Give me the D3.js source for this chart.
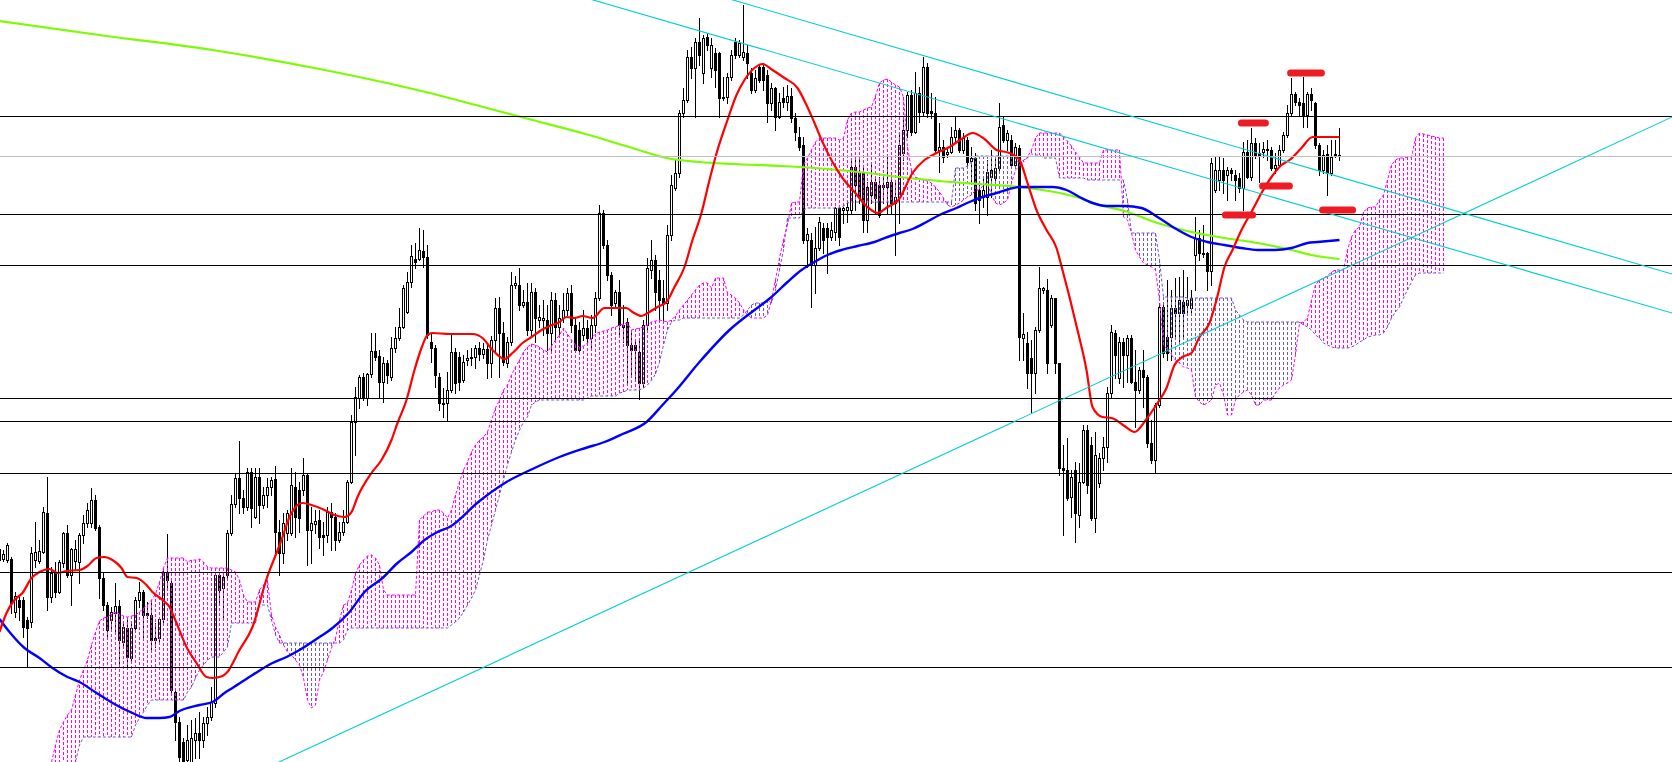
<!DOCTYPE html>
<html><head><meta charset="utf-8">
<script src="https://cdn.jsdelivr.net/npm/d3@7"></script>
<style>html,body{margin:0;padding:0;background:#fff;overflow:hidden}svg{display:block}</style>
</head><body><svg id="chart" width="1672" height="762"></svg>
<script>
// ---------- DATA ----------
const open=[106.40,106.41,106.40,106.41,105.88,106.00,106.00,105.80,105.78,106.40,
106.39,106.48,106.87,106.03,106.27,106.08,106.37,106.67,106.25,106.39,
106.38,106.65,106.77,106.77,107.00,106.73,106.22,105.95,105.80,105.87,
105.94,105.58,105.72,105.42,105.72,106.00,106.08,105.87,105.85,105.62,
105.62,105.81,106.28,106.17,105.08,104.78,104.58,104.40,104.38,104.60,
104.67,104.60,104.77,104.83,104.97,106.25,106.12,106.25,106.67,106.96,
107.22,107.02,106.93,107.28,106.83,107.23,106.95,107.05,107.13,107.21,
106.68,106.47,106.67,106.67,107.13,107.10,107.10,107.25,106.70,106.76,
106.80,106.65,106.65,106.88,106.83,106.60,106.68,106.78,107.18,107.78,
108.02,108.23,108.02,108.26,108.49,108.44,108.18,108.37,108.23,108.52,
108.62,108.73,108.88,109.18,109.41,109.41,109.49,109.43,108.58,108.52,
108.23,107.97,107.97,108.10,108.48,108.43,108.20,108.40,108.42,108.43,
108.52,108.46,108.51,108.37,108.60,108.92,108.67,108.37,108.58,109.15,
109.15,108.95,108.98,108.70,109.08,108.80,108.80,108.80,108.67,109.00,
108.73,108.82,108.90,109.07,108.75,108.70,108.65,108.72,108.62,108.75,
109.02,109.87,109.55,109.25,108.97,109.08,108.75,108.78,108.55,108.55,
108.48,108.17,108.75,109.30,109.40,109.20,109.02,108.97,109.65,110.12,
110.27,110.87,111.00,111.43,111.32,111.58,111.27,111.63,111.32,111.47,
111.47,111.03,111.03,111.23,111.58,111.45,111.43,111.47,111.27,111.10,
111.33,111.33,111.25,110.97,111.12,110.83,111.02,110.98,111.04,110.82,
110.63,110.55,109.60,109.60,109.35,109.52,109.72,109.72,109.63,109.68,
109.92,109.90,109.90,109.90,110.33,110.27,110.27,109.80,110.05,110.18,
110.15,110.13,110.13,110.18,109.97,110.03,110.47,110.70,111.05,110.68,
111.07,110.88,111.33,110.89,110.87,110.50,110.53,110.46,110.48,110.63,
110.70,110.50,110.60,110.39,110.42,110.10,110.03,110.03,110.23,110.22,
110.32,110.75,110.60,110.60,110.35,110.52,108.62,108.57,108.42,108.27,
108.70,109.10,109.10,108.75,109.02,108.37,107.32,107.30,107.03,107.30,
106.85,107.18,107.70,107.55,106.82,107.17,107.42,107.53,108.07,108.67,
108.22,108.58,108.45,108.62,108.18,108.10,108.30,108.23,107.57,107.40,
107.95,108.93,108.63,108.63,108.92,108.87,108.98,108.95,108.92,109.45,
109.62,109.47,109.47,109.29,110.10,110.20,110.30,110.25,110.30,110.25,
110.22,110.12,110.48,110.23,110.57,110.47,110.48,110.50,110.50,110.32,
110.35,110.50,110.65,110.87,111.06,110.98,110.97,110.85,111.06,110.97,
110.55,110.30,110.46,110.27,110.46,110.44];
const high=[106.53,106.50,106.57,106.43,106.08,106.03,106.03,105.83,106.53,106.78,
106.60,106.93,107.23,106.33,106.38,106.40,106.68,106.75,106.52,106.60,
106.67,106.85,106.97,107.12,107.05,106.75,106.28,105.98,105.93,106.17,
106.00,105.78,105.83,105.77,106.03,106.18,106.10,105.98,105.98,105.77,
105.83,106.32,106.66,106.20,105.10,104.83,104.62,104.75,104.80,104.82,
104.88,104.83,104.93,105.13,106.28,106.28,106.27,106.70,107.05,107.27,
107.59,107.10,107.32,107.32,107.32,107.32,107.13,107.22,107.23,107.34,
106.80,106.87,106.90,107.32,107.28,107.18,107.42,107.27,106.93,106.90,
106.90,106.78,106.93,106.97,106.87,106.78,106.90,107.20,107.85,108.13,
108.25,108.27,108.27,108.67,108.67,108.50,108.43,108.40,108.63,108.73,
108.92,109.15,109.28,109.55,109.57,109.72,109.70,109.55,108.67,108.55,
108.27,108.12,108.28,108.65,108.52,108.48,108.45,108.50,108.52,108.55,
108.58,108.57,108.57,108.64,109.02,109.03,108.78,108.63,109.28,109.24,
109.32,109.10,109.17,109.17,109.12,108.95,109.00,108.95,109.08,109.07,
108.95,109.07,109.12,109.15,108.82,108.78,108.90,108.80,108.85,109.08,
109.95,109.90,109.60,109.28,109.10,109.20,108.95,108.82,108.70,108.60,
108.60,108.80,109.42,109.60,109.45,109.30,109.20,109.75,110.25,110.40,
110.90,111.12,111.50,111.53,111.62,111.82,111.65,111.67,111.62,111.52,
111.48,111.23,111.27,111.50,111.62,111.60,111.95,111.55,111.32,111.30,
111.35,111.37,111.30,111.17,111.13,111.07,111.13,111.15,111.12,110.87,
110.73,110.63,109.72,109.67,109.73,109.83,109.77,109.77,109.78,109.93,
109.93,109.93,110.00,110.42,110.43,110.43,110.33,110.18,110.35,110.23,
110.23,110.23,110.45,110.25,110.17,110.65,110.83,111.08,111.10,111.28,
111.13,111.43,111.37,111.07,111.03,110.77,110.60,110.53,110.73,110.83,
110.72,110.67,110.63,110.53,110.47,110.17,110.23,110.40,110.50,110.43,
110.97,110.83,110.70,110.65,110.57,110.55,108.87,108.68,108.60,108.73,
109.33,109.13,109.21,109.05,109.02,108.37,107.55,107.62,107.30,107.38,
107.37,107.75,107.75,107.63,107.68,107.47,107.63,108.13,108.75,108.70,
108.63,108.62,108.65,108.65,108.50,108.33,108.50,108.25,107.80,107.97,
108.97,108.97,109.20,109.10,109.22,109.23,109.30,109.23,109.10,109.83,
109.70,109.75,109.48,110.42,110.43,110.43,110.42,110.33,110.32,110.30,
110.27,110.58,110.60,110.72,110.62,110.57,110.58,110.60,110.53,110.47,
110.55,110.68,110.95,111.22,111.08,111.02,111.23,111.08,111.12,110.98,
110.57,110.50,110.55,110.60,110.60,110.72];
const low=[106.38,106.39,106.38,105.87,105.83,105.80,105.63,105.33,105.73,106.33,
106.37,106.47,105.90,105.98,106.03,106.07,106.33,106.23,105.95,106.30,
106.17,106.57,106.73,106.73,106.70,106.02,105.90,105.63,105.70,105.67,
105.37,105.53,105.33,105.40,105.70,105.93,105.63,105.82,105.50,105.53,
105.58,105.77,106.13,105.07,104.60,104.35,104.25,104.30,104.30,104.42,
104.42,104.53,104.65,104.80,104.93,105.97,105.83,106.22,106.65,106.93,
106.87,106.87,106.90,106.73,106.82,106.77,106.92,106.93,107.05,106.47,
106.25,106.37,106.60,106.65,106.63,106.68,107.05,106.35,106.37,106.67,
106.52,106.45,106.58,106.50,106.50,106.58,106.65,106.77,107.17,107.45,
107.92,108.00,107.95,108.23,108.40,108.02,107.98,108.17,108.20,108.48,
108.60,108.72,108.87,109.13,109.32,109.40,109.33,108.62,108.38,108.13,
107.90,107.83,107.80,108.08,108.07,108.10,108.18,108.35,108.35,108.32,
108.40,108.42,108.22,108.23,108.48,108.23,108.35,108.33,108.55,109.12,
108.90,108.93,108.65,108.65,108.58,108.73,108.65,108.50,108.50,108.60,
108.63,108.78,108.85,108.68,108.48,108.48,108.60,108.58,108.52,108.68,
109.00,109.52,109.20,108.85,108.92,108.65,108.58,108.15,108.25,108.20,
108.01,108.13,108.70,109.22,108.90,108.78,108.78,108.90,109.60,110.10,
110.23,110.83,110.98,111.22,110.83,111.35,111.17,111.50,111.23,111.13,
110.83,111.00,110.97,111.20,111.42,111.43,111.40,111.22,111.07,111.08,
111.18,111.10,110.78,110.90,110.70,110.82,110.93,110.90,110.78,110.60,
110.50,109.57,109.33,108.93,109.07,109.50,109.47,109.27,109.60,109.60,
109.55,109.77,109.78,109.87,109.90,109.97,109.68,109.68,109.97,109.87,
109.83,109.97,109.87,109.87,109.45,109.77,110.40,110.63,110.65,110.67,
110.78,110.85,110.83,110.82,110.48,110.28,110.38,110.43,110.47,110.57,
110.48,110.47,110.33,110.17,109.90,109.77,109.93,109.85,110.03,110.18,
110.30,110.58,110.50,110.33,110.32,108.40,108.40,108.12,107.88,108.07,
108.68,109.07,108.27,108.73,108.27,107.25,106.65,107.00,106.83,106.58,
106.73,107.17,107.07,106.80,106.68,107.13,107.30,107.38,108.03,108.22,
108.17,108.13,108.18,108.17,107.73,108.07,107.93,107.53,107.37,107.27,
107.93,108.43,108.40,108.40,108.63,108.57,108.63,108.87,108.87,109.10,
109.40,109.43,109.10,109.15,110.08,110.10,110.07,110.00,110.20,110.00,
110.08,109.90,110.22,110.20,110.42,110.18,110.43,110.40,110.30,110.27,
110.33,110.48,110.63,110.85,110.95,110.85,110.73,110.73,110.90,110.52,
110.25,110.27,110.05,110.25,110.43,110.40];
const close=[106.51,106.46,106.55,105.97,106.04,105.93,105.73,105.72,106.47,106.48,
106.49,106.88,106.03,106.27,106.08,106.38,106.67,106.25,106.51,106.51,
106.65,106.77,106.90,107.00,106.72,106.22,105.95,105.70,105.88,105.94,
105.60,105.73,105.43,105.72,106.00,106.08,105.85,105.85,105.60,105.60,
105.81,106.28,106.20,105.10,104.78,104.43,104.38,104.60,104.62,104.67,
104.60,104.77,104.83,104.98,106.25,106.10,106.23,106.67,106.96,107.22,
107.02,106.93,107.28,106.92,107.23,106.95,107.05,107.13,107.20,106.68,
106.47,106.77,106.87,107.15,106.83,106.82,107.25,106.70,106.77,106.79,
106.63,106.63,106.88,106.83,106.60,106.68,106.78,107.18,107.78,108.03,
108.23,108.02,108.26,108.49,108.43,108.18,108.37,108.25,108.52,108.62,
108.73,109.12,109.18,109.44,109.38,109.50,109.43,108.65,108.52,108.25,
107.97,107.96,108.10,108.48,108.17,108.18,108.38,108.42,108.43,108.52,
108.46,108.51,108.37,108.60,108.92,108.67,108.38,108.58,109.15,109.17,
108.95,108.98,108.70,109.08,108.82,108.83,108.82,108.67,109.00,108.73,
108.82,108.90,109.07,108.75,108.50,108.50,108.72,108.62,108.75,109.02,
109.87,109.55,109.25,108.95,109.08,108.75,108.73,108.55,108.50,108.50,
108.17,108.75,109.32,109.40,109.08,109.00,108.97,109.65,110.15,110.27,
110.87,111.00,111.43,111.32,111.58,111.45,111.62,111.55,111.55,111.30,
111.02,111.02,111.23,111.45,111.45,111.57,111.48,111.37,111.10,111.22,
111.20,111.20,110.97,111.12,110.83,110.98,110.98,111.04,110.82,110.68,
110.53,109.60,109.66,109.35,109.52,109.78,109.60,109.63,109.70,109.92,
109.63,109.92,109.93,110.33,110.15,110.03,109.80,110.13,110.18,110.02,
109.85,110.15,110.18,109.97,110.03,110.55,110.70,111.05,110.68,111.07,
110.88,111.33,110.87,110.87,110.50,110.53,110.43,110.48,110.63,110.70,
110.50,110.62,110.38,110.42,109.97,110.00,110.10,110.28,110.30,110.32,
110.73,110.60,110.67,110.35,110.53,108.63,108.66,108.27,108.27,108.70,
109.12,109.12,108.37,109.02,108.37,107.32,107.30,107.02,107.23,106.87,
107.18,107.70,107.15,106.82,107.45,107.42,107.53,108.07,108.68,108.45,
108.58,108.45,108.62,108.18,108.10,108.30,108.23,107.57,107.40,107.95,
108.93,108.47,108.47,108.92,108.87,109.00,108.87,109.00,109.02,109.62,
109.47,109.46,109.29,110.37,110.30,110.30,110.20,110.30,110.27,110.20,
110.12,110.48,110.23,110.57,110.45,110.45,110.51,110.51,110.32,110.35,
110.50,110.65,110.87,111.06,110.98,110.95,110.85,111.06,111.00,110.55,
110.30,110.45,110.27,110.43,110.44,110.45];

// Ichimoku Senkou spans (already shifted 26 bars ahead): [bar, price] read where the value changes
const senkouA=[[13,104.38],[14,104.55],[15,104.70],[16,104.78],[17,104.85],[18,104.90],[19,105.05],[20,105.20],[21,105.30],[22,105.40],[23,105.55],[24,105.68],[25,105.79],[26,105.82],[27,105.83],[28,105.86],[29,105.88],[30,105.86],[31,105.84],[32,105.83],[33,105.84],[34,105.85],[35,105.88],[36,105.92],[37,105.95],[38,106.00],[39,106.06],[40,106.18],[41,106.32],[42,106.42],[47,106.38],[48,106.40],[50,106.41],[51,106.38],[52,106.33],[53,106.32],[58,106.30],[59,106.28],[60,106.20],[61,106.05],[62,105.98],[65,106.10],[66,106.15],[67,106.20],[68,105.85],[69,105.73],[70,105.65],[71,105.55],[72,105.48],[73,105.45],[74,105.40],[75,105.35],[76,105.22],[77,105.00],[78,104.92],[79,104.95],[80,105.20],[81,105.28],[82,105.40],[83,105.52],[84,105.62],[85,105.80],[86,105.95],[87,105.97],[88,106.10],[89,106.27],[90,106.35],[91,106.40],[92,106.44],[93,106.45],[94,106.42],[95,106.35],[96,106.10],[97,106.05],[105,106.80],[106,106.84],[107,106.88],[109,106.90],[111,106.87],[112,106.82],[113,106.90],[114,107.05],[115,107.18],[116,107.30],[117,107.38],[118,107.48],[119,107.55],[120,107.60],[121,107.63],[122,107.68],[123,107.80],[124,107.92],[125,108.00],[126,108.10],[127,108.15],[128,108.25],[129,108.33],[130,108.40],[131,108.48],[132,108.53],[133,108.56],[134,108.55],[135,108.53],[136,108.50],[137,108.48],[138,108.54],[139,108.60],[140,108.65],[141,108.72],[142,108.66],[143,108.60],[144,108.55],[145,108.53],[146,108.54],[147,108.57],[148,108.62],[149,108.66],[150,108.68],[151,108.69],[152,108.70],[153,108.72],[154,108.73],[155,108.75],[156,108.76],[157,108.77],[158,108.70],[159,108.71],[160,108.72],[161,108.73],[162,108.75],[163,108.78],[164,108.79],[165,108.80],[166,108.79],[167,108.78],[168,108.80],[169,108.84],[170,108.90],[171,108.95],[172,109.00],[173,109.05],[174,109.10],[175,109.15],[176,109.17],[178,109.12],[179,109.22],[182,109.07],[183,109.05],[184,109.02],[185,108.97],[186,108.90],[187,108.85],[188,108.82],[192,108.85],[193,109.00],[194,109.20],[195,109.42],[196,109.60],[197,109.75],[198,109.97],[199,109.98],[201,110.35],[202,110.42],[203,110.50],[204,110.58],[205,110.62],[210,110.60],[211,110.62],[212,110.80],[213,110.87],[214,110.88],[216,110.90],[217,110.92],[218,110.93],[219,111.04],[220,111.17],[221,111.20],[222,111.21],[223,111.18],[224,111.15],[225,111.13],[226,111.03],[227,110.53],[228,110.30],[229,110.23],[230,110.21],[231,110.20],[232,110.19],[233,110.17],[234,110.13],[235,110.08],[236,110.02],[237,109.95],[238,109.93],[239,109.95],[240,109.97],[241,110.00],[242,110.03],[243,110.05],[244,110.10],[246,110.15],[247,110.17],[248,110.05],[249,109.97],[250,109.95],[251,109.97],[252,110.00],[253,110.17],[254,110.30],[255,110.34],[256,110.38],[257,110.43],[258,110.50],[259,110.62],[260,110.67],[266,110.63],[267,110.59],[268,110.54],[269,110.48],[270,110.43],[271,110.37],[276,110.50],[281,109.83],[282,109.80],[283,109.67],[284,109.50],[285,109.43],[286,109.37],[287,109.35],[288,109.33],[289,109.30],[290,109.00],[291,108.55],[292,108.50],[293,108.45],[294,108.40],[295,108.37],[296,108.33],[297,108.32],[298,108.30],[299,108.03],[300,107.98],[301,107.95],[302,107.97],[303,108.00],[304,108.15],[305,108.17],[306,108.05],[307,107.85],[309,108.00],[310,108.05],[311,108.08],[312,108.10],[313,108.05],[314,107.95],[316,108.00],[319,108.07],[320,108.12],[321,108.15],[322,108.17],[323,108.20],[324,108.45],[325,108.77],[326,108.78],[327,108.82],[328,109.00],[329,109.15],[330,109.20],[331,109.22],[332,109.24],[333,109.28],[334,109.30],[337,109.50],[338,109.63],[339,109.70],[340,109.73],[341,109.88],[342,109.92],[343,109.93],[345,110.00],[346,110.05],[347,110.20],[348,110.35],[349,110.40],[350,110.42],[352,110.43],[354,110.62],[355,110.67],[356,110.66],[357,110.65],[358,110.64],[359,110.63],[360,110.62],[361,110.62]];
const senkouB=[[13,104.00],[16,104.10],[17,104.20],[18,104.30],[19,104.38],[20,104.55],[21,104.63],[34,104.75],[35,104.82],[36,104.88],[37,104.95],[38,105.00],[47,105.08],[48,105.13],[49,105.22],[50,105.30],[51,105.35],[52,105.40],[53,105.43],[56,105.48],[57,105.53],[58,105.77],[65,105.95],[68,105.80],[69,105.65],[70,105.57],[86,105.60],[87,105.70],[88,105.72],[113,105.75],[114,105.78],[115,105.82],[116,105.88],[117,105.95],[118,106.02],[119,106.10],[120,106.25],[121,106.40],[122,106.60],[123,106.75],[124,106.90],[125,107.05],[126,107.20],[127,107.35],[128,107.48],[129,107.60],[130,107.70],[131,107.78],[132,107.83],[133,107.95],[134,107.98],[135,108.00],[147,108.02],[148,108.04],[155,108.07],[156,108.08],[157,108.10],[161,108.12],[162,108.15],[163,108.20],[164,108.26],[165,108.38],[166,108.55],[167,108.70],[168,108.78],[169,108.80],[171,108.82],[186,108.85],[187,108.90],[188,108.95],[189,108.97],[192,109.00],[193,108.97],[194,109.10],[195,109.30],[196,109.50],[197,109.82],[201,109.90],[202,109.92],[211,109.94],[212,109.97],[213,109.98],[239,110.32],[242,110.34],[243,110.38],[244,110.44],[255,110.35],[256,110.40],[257,110.42],[258,110.46],[259,110.45],[261,110.42],[265,110.22],[272,110.20],[282,110.00],[283,109.67],[290,109.40],[291,109.03],[297,109.02],[309,108.90],[310,108.85],[311,108.80],[312,108.78],[326,108.75],[327,108.73],[328,108.70],[329,108.65],[330,108.62],[331,108.57],[332,108.55],[333,108.53],[334,108.52],[338,108.53],[339,108.55],[340,108.58],[341,108.60],[342,108.63],[343,108.64],[344,108.65],[346,108.67],[347,108.73],[348,108.82],[349,108.88],[350,108.93],[351,109.02],[352,109.10],[353,109.18],[354,109.25],[355,109.27],[361,109.27]];

// Moving averages: [bar, price]
const redMA=[[0,105.68],[1.75,105.87],[3.75,106.00],[5.75,106.07],[8,106.22],[10,106.28],[12.5,106.31],[14.5,106.27],[16.75,106.29],[20,106.30],[22,106.34],[24.25,106.42],[26.25,106.43],[28.25,106.40],[30.5,106.32],[32,106.23],[34.25,106.22],[36.75,106.15],[38.25,106.08],[40.75,106.00],[42.5,105.93],[44.25,105.77],[46.75,105.53],[49.25,105.37],[51.75,105.23],[53.25,105.22],[55.75,105.24],[56.75,105.27],[60,105.50],[63.25,105.73],[66.75,106.21],[69.25,106.47],[70.5,106.60],[72.5,106.83],[75.75,106.97],[78,106.95],[81.25,106.90],[83.75,106.85],[86.25,106.83],[88,106.88],[89.5,107.03],[93,107.27],[95.5,107.40],[98,107.60],[99.5,107.77],[101.75,108.00],[103.75,108.30],[105.5,108.52],[107,108.65],[108.25,108.67],[112.5,108.66],[118.25,108.66],[120.75,108.62],[123.25,108.50],[126.25,108.41],[128.25,108.47],[130.75,108.57],[133,108.63],[135.5,108.70],[137.5,108.74],[140,108.78],[141.75,108.83],[143.75,108.82],[145.75,108.84],[148.25,108.82],[151.25,108.92],[156.75,108.92],[158.25,108.88],[160.5,108.84],[162.5,108.88],[164.5,108.93],[166.75,108.98],[168.75,109.13],[171.25,109.33],[173.25,109.60],[175.5,109.87],[177.5,110.20],[179.5,110.50],[182,110.80],[184.25,111.05],[186.25,111.20],[188.75,111.32],[190.75,111.36],[193.25,111.30],[196.25,111.22],[199.5,111.12],[201.75,110.95],[203.75,110.77],[205.75,110.58],[208.25,110.38],[210.75,110.22],[213.75,110.08],[217,109.93],[219.5,109.87],[222,109.93],[224.75,110.00],[228.25,110.27],[231.25,110.40],[234.25,110.47],[237.5,110.53],[240.5,110.61],[243.25,110.67],[246.25,110.61],[249.25,110.50],[252.5,110.47],[255,110.40],[257,110.17],[259.25,109.90],[261.75,109.70],[264.25,109.52],[265.75,109.30],[267.5,109.03],[269.5,108.70],[271.75,108.30],[273.25,107.93],[275.75,107.83],[278,107.82],[281.25,107.74],[283.75,107.68],[286.75,107.81],[289.5,107.97],[291.75,108.12],[293.75,108.35],[295.75,108.43],[298,108.47],[300,108.63],[302.5,108.77],[304.25,109.00],[306.25,109.33],[308.25,109.50],[310.5,109.70],[313.25,109.90],[315.5,110.07],[318,110.23],[320.5,110.35],[322.5,110.40],[325.5,110.52],[328.25,110.63],[330.5,110.63],[335,110.63]];
const blueMA=[[0,105.81],[2.5,105.68],[6.25,105.52],[10,105.42],[13.25,105.32],[17,105.23],[20,105.18],[24.25,105.07],[28.25,104.97],[33.25,104.87],[36.75,104.82],[40,104.82],[42.5,104.83],[45,104.89],[50,104.95],[53.25,104.98],[56.25,105.07],[58.25,105.12],[63.25,105.25],[68.25,105.37],[71.75,105.43],[75,105.50],[80,105.63],[83.25,105.72],[87.5,105.88],[91.25,106.08],[95.75,106.22],[99.5,106.37],[103,106.48],[106.25,106.60],[109.5,106.68],[112.5,106.73],[120,106.99],[126.75,107.18],[133.25,107.31],[140,107.43],[146.5,107.52],[151.25,107.58],[155.75,107.66],[161.75,107.78],[165.75,107.95],[168.75,108.08],[175,108.38],[182.5,108.70],[188.75,108.90],[193,109.03],[197,109.18],[200.5,109.30],[203.75,109.38],[207,109.45],[210.5,109.50],[214.5,109.54],[218.75,109.58],[222,109.63],[225,109.67],[228.25,109.71],[231.75,109.78],[235,109.85],[239.25,109.92],[242.5,109.98],[245.75,110.03],[249.25,110.07],[252.5,110.11],[255,110.13],[260,110.13],[263.25,110.13],[266.75,110.10],[270,110.03],[273.25,109.97],[276.75,109.94],[281.25,109.94],[285.5,109.92],[289.5,109.83],[293.75,109.72],[298,109.63],[302,109.58],[306.25,109.55],[310.5,109.52],[314.5,109.50],[318.75,109.50],[323,109.52],[327,109.57],[329.5,109.58],[335,109.60]];
const greenMA=[[0,111.79],[26.75,111.64],[53.25,111.50],[80,111.31],[106.5,111.08],[120,110.94],[133.25,110.80],[146.5,110.66],[158.25,110.52],[166.75,110.42],[175,110.38],[183.75,110.36],[195.5,110.34],[207,110.31],[217,110.27],[225,110.23],[235,110.19],[245,110.16],[255,110.13],[265,110.07],[270,110.02],[275,109.95],[281.25,109.89],[289.5,109.77],[298,109.68],[306.25,109.62],[314.5,109.57],[323,109.50],[328,109.45],[335,109.41]];

// Objects
const levels=[110.84,109.86,109.35,108.02,107.79,107.27,106.28,105.33];
const grayLevels=[110.44];
const trendLines=[[150.25,111.98,418.25,108.87],[183.5,112.00,418.25,109.26],[70,104.38,418.25,110.83]];
const markers=[[322.9,330.6,111.27],[310.6,316.6,110.77],[315.9,322.6,110.14],[306.6,313.4,109.85],[330.9,338.4,109.90]];

// ---------- DRAW ----------
const W=1672,H=762;
const svg=d3.select('#chart');
svg.append('rect').attr('width',W).attr('height',H).attr('fill','#fff');
const x=d3.scaleLinear().domain([0,418]).range([-1,1671]);
const y=d3.scaleLinear().domain([112,104.38]).range([0,H]);

const n=Math.min(open.length,high.length,low.length,close.length);
const bars=d3.range(n).map(i=>({i,o:open[i],h:high[i],l:low[i],c:close[i]}));

// candles
const gc=svg.append('g').attr('shape-rendering','crispEdges');
gc.selectAll('rect.wick').data(bars).join('rect').attr('class','wick')
  .attr('x',d=>Math.round(x(d.i))).attr('y',d=>Math.round(y(d.h)))
  .attr('width',1).attr('height',d=>Math.max(1,Math.round(y(d.l))-Math.round(y(d.h))+1)).attr('fill','#000');
gc.selectAll('rect.body').data(bars).join('rect').attr('class','body')
  .attr('x',d=>Math.round(x(d.i))-1).attr('y',d=>Math.round(y(Math.max(d.o,d.c))))
  .attr('width',3).attr('height',d=>Math.max(1,Math.round(y(Math.min(d.o,d.c)))-Math.round(y(Math.max(d.o,d.c)))+1)).attr('fill','#000');
gc.selectAll('rect.inner').data(bars.filter(d=>d.c>d.o && (Math.round(y(d.o))-Math.round(y(d.c)))>=2)).join('rect').attr('class','inner')
  .attr('x',d=>Math.round(x(d.i))).attr('y',d=>Math.round(y(d.c))+1)
  .attr('width',1).attr('height',d=>Math.round(y(d.o))-Math.round(y(d.c))-1).attr('fill','#fff');

// cloud (hold each read value until the next change)
const cloud=[];
(function(){
  let ia=0,ib=0,a=senkouA[0][1],b=senkouB[0][1];
  const k0=Math.min(senkouA[0][0],senkouB[0][0]);
  const k1=Math.max(senkouA[senkouA.length-1][0],senkouB[senkouB.length-1][0]);
  for(let k=k0;k<=k1;k++){
    while(ia<senkouA.length&&senkouA[ia][0]<=k){a=senkouA[ia][1];ia++;}
    while(ib<senkouB.length&&senkouB[ib][0]<=k){b=senkouB[ib][1];ib++;}
    cloud.push({k,a,b});
  }
})();
const MAG='#ff00ff', SLATE='#6a5acd';
const gk=svg.append('g');
gk.selectAll('line.hatch').data(cloud).join('line').attr('class','hatch')
  .attr('x1',d=>Math.round(x(d.k))+0.5).attr('x2',d=>Math.round(x(d.k))+0.5)
  .attr('y1',d=>Math.min(y(d.a),y(d.b))).attr('y2',d=>Math.max(y(d.a),y(d.b)))
  .attr('stroke',d=>d.a>=d.b?MAG:SLATE).attr('stroke-width',1)
  .attr('stroke-dasharray','3,2').attr('shape-rendering','crispEdges');
const lineB=d3.line().x(d=>Math.round(x(d.k))+0.5).y(d=>y(d.b));
const lineA=d3.line().x(d=>Math.round(x(d.k))+0.5).y(d=>y(d.a));
gk.append('path').attr('d',lineB(cloud)).attr('fill','none').attr('stroke',SLATE).attr('stroke-width',1).attr('stroke-dasharray','3,2');
gk.append('path').attr('d',lineA(cloud)).attr('fill','none').attr('stroke',MAG).attr('stroke-width',1).attr('stroke-dasharray','3,2');

// moving averages
const maLine=d3.line().x(d=>x(d[0])+0.5).y(d=>y(d[1])).curve(d3.curveMonotoneX);
svg.append('path').attr('d',maLine(greenMA)).attr('fill','none').attr('stroke','#7cfc00').attr('stroke-width',2.2);
svg.append('path').attr('d',maLine(blueMA)).attr('fill','none').attr('stroke','#0000ff').attr('stroke-width',2.4);
svg.append('path').attr('d',maLine(redMA)).attr('fill','none').attr('stroke','#ff0000').attr('stroke-width',2.2);

// horizontal levels
const gl=svg.append('g').attr('shape-rendering','crispEdges');
gl.selectAll('rect.gray').data(grayLevels).join('rect').attr('class','gray')
  .attr('x',0).attr('width',W).attr('y',d=>Math.round(y(d))).attr('height',1).attr('fill','#c0c0c0');
gl.selectAll('rect.lvl').data(levels).join('rect').attr('class','lvl')
  .attr('x',0).attr('width',W).attr('y',d=>Math.round(y(d))).attr('height',1).attr('fill','#000');

// trend lines (extended across the window)
const bx0=x.invert(-2), bx1=x.invert(W+2);
svg.append('g').selectAll('line').data(trendLines).join('line')
  .attr('x1',x(bx0)).attr('x2',x(bx1))
  .attr('y1',d=>y(d[1]+(d[3]-d[1])*(bx0-d[0])/(d[2]-d[0])))
  .attr('y2',d=>y(d[1]+(d[3]-d[1])*(bx1-d[0])/(d[2]-d[0])))
  .attr('stroke','#00ced1').attr('stroke-width',1.1);

// red highlight marks
svg.append('g').selectAll('line').data(markers).join('line')
  .attr('x1',d=>x(d[0])).attr('x2',d=>x(d[1]))
  .attr('y1',d=>y(d[2])).attr('y2',d=>y(d[2]))
  .attr('stroke','#ed1c24').attr('stroke-width',7).attr('stroke-linecap','round');
</script></body></html>
